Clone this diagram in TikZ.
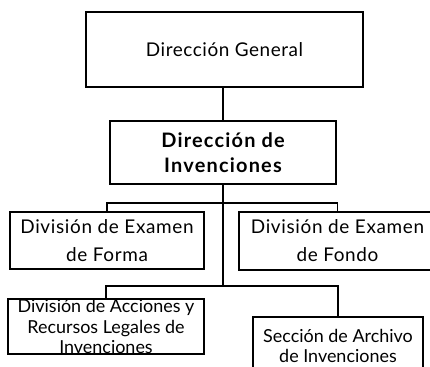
\documentclass[tikz,border=0pt]{standalone}
\usepackage{fontspec}
\setmainfont{Lato}

\begin{document}
\begin{tikzpicture}[x=1bp,y=-1bp,
    box/.style={draw,line width=1.2bp,inner sep=0pt,align=center},
    link/.style={line width=1.2bp}]
  \useasboundingbox (0,0) rectangle (430,367);
  \clip (0,0) rectangle (430,367);
  \node[box,minimum width=277bp,minimum height=75bp,font=\fontsize{19}{25}\selectfont\addfontfeatures{LetterSpace=3}] (general) at (224.5,49.5) {Dirección General};
  \node[box,minimum width=226bp,minimum height=63bp,font=\bfseries\fontsize{20}{25}\selectfont\addfontfeatures{LetterSpace=6}] (invenciones) at (223,152.5) {Dirección de\\Invenciones};
  \node[box,minimum width=194bp,minimum height=57bp,font=\fontsize{19}{28}\selectfont\addfontfeatures{LetterSpace=3.5}] (forma) at (107,240.5) {División de Examen\\de Forma};
  \node[box,minimum width=197bp,minimum height=58bp,font=\fontsize{19}{28}\selectfont\addfontfeatures{LetterSpace=3.5}] (fondo) at (337.5,241) {División de Examen\\de Fondo};
  \node[box,minimum width=196bp,minimum height=55bp,font=\fontsize{18}{20.5}\selectfont] (legales) at (106,326.5) {División de Acciones y\\Recursos Legales de\\Invenciones};
  \node[box,minimum width=170bp,minimum height=58bp,font=\fontsize{18}{21}\selectfont] (archivo) at (338,346) {Sección de Archivo\\de Invenciones};
  \coordinate (fork1) at (223,203);
  \coordinate (fork2) at (223,286);
  \draw[link] (invenciones.north) -- (invenciones.north |- general.south);
  \draw[link] (invenciones.south) -- (fork2);
  \draw[link] (forma.north) |- (fork1) -| (fondo.north);
  \draw[link] (legales.north) |- (fork2) -| (archivo.north);
\end{tikzpicture}
\end{document}
